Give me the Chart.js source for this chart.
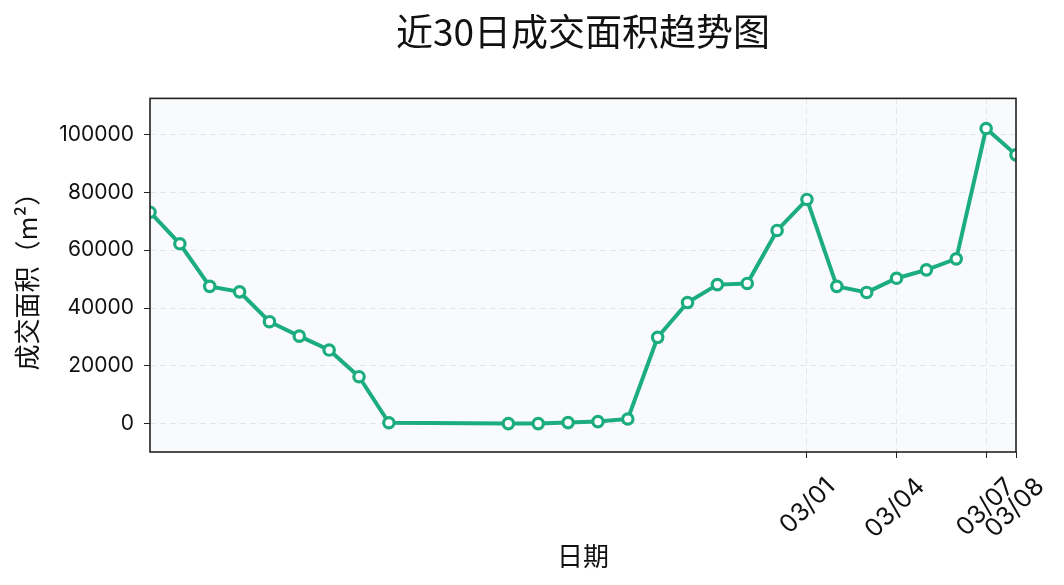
<!DOCTYPE html>
<html>
<head>
<meta charset="utf-8">
<script src="https://cdn.jsdelivr.net/npm/chart.js@4.4.1/dist/chart.umd.min.js"></script>
<style>
  html, body { margin: 0; padding: 0; background: #fff; }
  #wrap { width: 1064px; height: 585px; }
</style>
</head>
<body>
<div id="wrap"><canvas id="areaChart" width="1064" height="585"></canvas></div>
<script>
// data (year 2025)
var year = 2025;
var dates = ['02/07', '02/08', '02/09', '02/10', '02/11', '02/12', '02/13', '02/14', '02/15',
  '02/19', '02/20', '02/21', '02/22', '02/23', '02/24', '02/25', '02/26', '02/27', '02/28',
  '03/01', '03/02', '03/03', '03/04', '03/05', '03/06', '03/07', '03/08'];
var areas = [73100, 62200, 47500, 45600, 35300, 30300, 25500, 16300, 400,
  100, 100, 450, 800, 1700, 29900, 41900, 48100, 48500, 66800,
  77500, 47500, 45400, 50300, 53200, 57000, 102000, 92900];
var xTickLabels = ['03/01', '03/04', '03/07', '03/08'];
var yTicks = [0, 20000, 40000, 60000, 80000, 100000];

function dayOf(md) {
  var p = md.split('/');
  return Date.UTC(year, parseInt(p[0], 10) - 1, parseInt(p[1], 10)) / 86400000;
}
var day0 = dayOf(dates[0]);
function xOf(md) { return dayOf(md) - day0; }

var points = dates.map(function(d, i) { return { x: xOf(d), y: areas[i] }; });

var latin = 'Inter, "Noto Sans CJK SC", sans-serif';
var cjk = '"Noto Sans CJK SC", sans-serif';
var green = '#1cad7e';

var framePlugin = {
  id: 'frame',
  afterLayout: function(chart) {
    // centre the title over the plot area, like the original
    var a = chart.chartArea, t = chart.titleBlock;
    if (t) { t.left = a.left; t.right = a.right; t.width = a.right - a.left; }
  },
  beforeDraw: function(chart) {
    var a = chart.chartArea, ctx = chart.ctx;
    ctx.save();
    ctx.fillStyle = '#f8fafc';
    ctx.fillRect(a.left, a.top, a.right - a.left, a.bottom - a.top);
    ctx.restore();
  },
  afterDraw: function(chart) {
    var a = chart.chartArea, ctx = chart.ctx;
    ctx.save();
    ctx.strokeStyle = '#222';
    ctx.lineWidth = 1.6;
    ctx.strokeRect(a.left, a.top, a.right - a.left, a.bottom - a.top);
    ctx.restore();
  }
};

new Chart(document.getElementById('areaChart'), {
  type: 'line',
  data: {
    datasets: [{
      label: '成交面积',
      data: points,
      borderColor: green,
      borderWidth: 4,
      pointBackgroundColor: '#fff',
      pointBorderColor: green,
      pointBorderWidth: 3.2,
      pointRadius: 5.2,
      tension: 0,
      clip: 0
    }]
  },
  options: {
    responsive: false,
    animation: false,
    layout: { padding: { left: 0, right: 48, top: 0, bottom: 0 } },
    plugins: {
      legend: { display: false },
      tooltip: { enabled: false },
      title: {
        display: true,
        text: '近30日成交面积趋势图',
        color: '#111',
        font: { family: cjk, size: 37, weight: 'normal' },
        padding: { top: 10, bottom: 44 }
      }
    },
    scales: {
      x: {
        type: 'linear',
        min: 0,
        max: xOf(dates[dates.length - 1]),
        afterBuildTicks: function(scale) {
          scale.ticks = xTickLabels.map(function(t) { return { value: xOf(t) }; });
        },
        afterFit: function(scale) { scale.height = 133; },
        ticks: {
          autoSkip: false,
          minRotation: 45,
          maxRotation: 45,
          labelOffset: 24,
          padding: 14,
          color: '#111',
          font: { family: latin, size: 25 },
          callback: function(v) {
            var i = xTickLabels.map(xOf).indexOf(v);
            return i >= 0 ? xTickLabels[i] : '';
          }
        },
        grid: { color: '#e3e7ec', tickColor: '#222', tickLength: 6, lineWidth: 1 },
        border: { display: false, dash: [6, 4] },
        title: {
          display: true,
          text: '日期',
          color: '#111',
          font: { family: cjk, size: 26 },
          padding: { top: 0, bottom: 13 }
        }
      },
      y: {
        min: -9700,
        max: 112400,
        afterBuildTicks: function(scale) {
          scale.ticks = yTicks.map(function(v) { return { value: v }; });
        },
        afterFit: function(scale) { scale.width = 150; },
        ticks: {
          color: '#111',
          font: { family: latin, size: 21 },
          padding: 10,
          callback: function(v) { return String(v); }
        },
        grid: { color: '#e3e7ec', tickColor: '#222', tickLength: 6, lineWidth: 1 },
        border: { display: false, dash: [6, 4] },
        title: {
          display: true,
          text: '成交面积（m²）',
          color: '#111',
          font: { family: cjk, size: 26 },
          padding: { top: 12, bottom: 0 }
        }
      }
    }
  },
  plugins: [framePlugin]
});
</script>
</body>
</html>
